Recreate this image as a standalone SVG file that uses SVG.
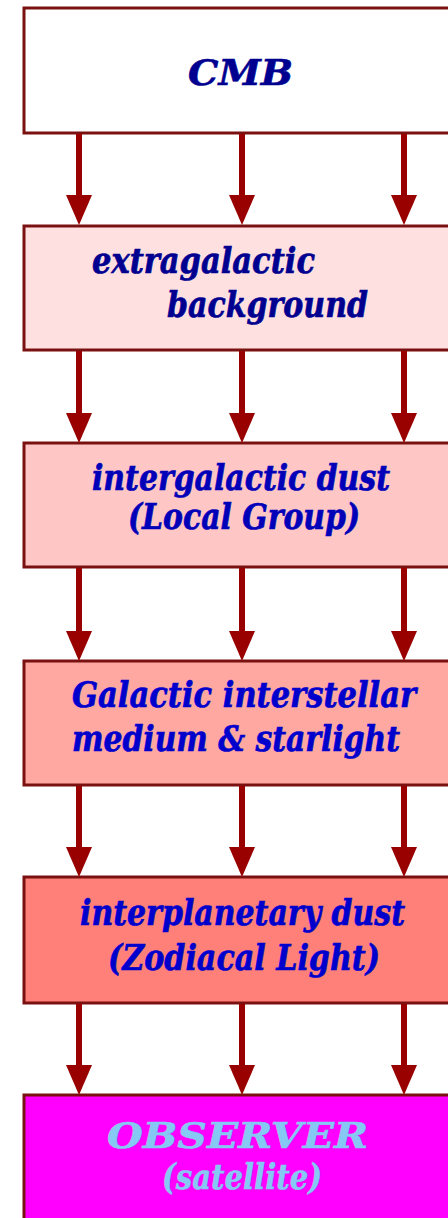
<svg xmlns="http://www.w3.org/2000/svg" width="448" height="1218" viewBox="0 0 448 1218">
  <style>
    .box { stroke: #7a1010; stroke-width: 3; }
    .t { font-family: "DejaVu Serif", "Liberation Serif", serif; font-weight: bold; font-style: italic; font-size: 36px; stroke-width: 0.6; }
    .s { font-size: 28px; stroke-width: 0.55; }
    .dark { fill: #000090; stroke: #000090; }
    .mid { fill: #0000b8; stroke: #0000b8; }
    .blue { fill: #0000cc; stroke: #0000cc; }
    .obs { fill: #86c8f4; stroke: #86c8f4; }
    .conn line { stroke: #990000; stroke-width: 6; }
  </style>
  <defs>
    <marker id="ah" markerUnits="userSpaceOnUse" markerWidth="30" markerHeight="26" viewBox="0 0 30 26" refX="0" refY="13" orient="auto">
      <path d="M0,0 L30,13 L0,26 z" fill="#990000"/>
    </marker>
  </defs>
  <rect width="448" height="1218" fill="#ffffff"/>

  <g id="node-cmb">
    <rect class="box" x="24" y="8" width="440" height="125" fill="#ffffff"/>
    <text class="t dark" x="188" y="85" font-size="42" textLength="105" lengthAdjust="spacingAndGlyphs">CMB</text>
  </g>
  <g id="node-extragalactic">
    <rect class="box" x="24" y="226" width="440" height="124" fill="#ffe0e0"/>
    <text class="t s dark" transform="translate(92,273) scale(1,1.2857)" textLength="223" lengthAdjust="spacingAndGlyphs">extragalactic</text>
    <text class="t s dark" transform="translate(167,317) scale(1,1.2857)" textLength="201" lengthAdjust="spacingAndGlyphs">background</text>
  </g>
  <g id="node-intergalactic">
    <rect class="box" x="24" y="443" width="440" height="124" fill="#ffc6c6"/>
    <text class="t s mid" transform="translate(92,490) scale(1,1.2857)" textLength="298" lengthAdjust="spacingAndGlyphs">intergalactic dust</text>
    <text class="t s mid" transform="translate(128,529) scale(1,1.2857)" textLength="232" lengthAdjust="spacingAndGlyphs">(Local Group)</text>
  </g>
  <g id="node-galactic">
    <rect class="box" x="24" y="661" width="440" height="124" fill="#ffa8a2"/>
    <text class="t s blue" transform="translate(72,707) scale(1,1.2857)" textLength="344" lengthAdjust="spacingAndGlyphs">Galactic interstellar</text>
    <text class="t s blue" transform="translate(72,751) scale(1,1.2857)" textLength="328" lengthAdjust="spacingAndGlyphs">medium &amp; starlight</text>
  </g>
  <g id="node-interplanetary">
    <rect class="box" x="24" y="877" width="440" height="126" fill="#ff8078"/>
    <text class="t s blue" transform="translate(80,925) scale(1,1.2857)" textLength="325" lengthAdjust="spacingAndGlyphs">interplanetary dust</text>
    <text class="t s blue" transform="translate(108,970) scale(1,1.2857)" textLength="272" lengthAdjust="spacingAndGlyphs">(Zodiacal Light)</text>
  </g>
  <g id="node-observer">
    <rect class="box" x="24" y="1095" width="440" height="140" fill="#ff00ff"/>
    <text class="t obs" x="107" y="1148" font-size="46" textLength="261" lengthAdjust="spacingAndGlyphs">OBSERVER</text>
    <text class="t obs" x="162" y="1189" font-size="34" textLength="160" lengthAdjust="spacingAndGlyphs">(satellite)</text>
  </g>

  <g id="connectors" class="conn">
    <line x1="79" y1="134" x2="79" y2="195" marker-end="url(#ah)"/>
    <line x1="242" y1="134" x2="242" y2="195" marker-end="url(#ah)"/>
    <line x1="404" y1="134" x2="404" y2="195" marker-end="url(#ah)"/>

    <line x1="79" y1="351" x2="79" y2="413" marker-end="url(#ah)"/>
    <line x1="242" y1="351" x2="242" y2="413" marker-end="url(#ah)"/>
    <line x1="404" y1="351" x2="404" y2="413" marker-end="url(#ah)"/>

    <line x1="79" y1="568" x2="79" y2="631" marker-end="url(#ah)"/>
    <line x1="242" y1="568" x2="242" y2="631" marker-end="url(#ah)"/>
    <line x1="404" y1="568" x2="404" y2="631" marker-end="url(#ah)"/>

    <line x1="79" y1="786" x2="79" y2="847" marker-end="url(#ah)"/>
    <line x1="242" y1="786" x2="242" y2="847" marker-end="url(#ah)"/>
    <line x1="404" y1="786" x2="404" y2="847" marker-end="url(#ah)"/>

    <line x1="79" y1="1004" x2="79" y2="1065" marker-end="url(#ah)"/>
    <line x1="242" y1="1004" x2="242" y2="1065" marker-end="url(#ah)"/>
    <line x1="404" y1="1004" x2="404" y2="1065" marker-end="url(#ah)"/>
  </g>
</svg>
